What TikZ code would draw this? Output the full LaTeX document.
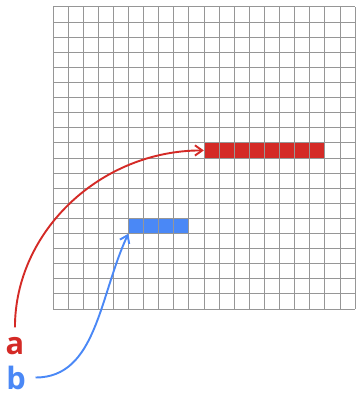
\documentclass[tikz,border=0pt]{standalone}
\usepackage{fontspec}
\setmainfont{Open Sans}
\usetikzlibrary{
    positioning,
    arrows.meta
}
\definecolor{MarkRed}{RGB}{212,42,38}
\definecolor{MarkBlue}{RGB}{74,136,246}
\definecolor{GridGray}{RGB}{150,150,150}

\begin{document}
\begin{tikzpicture}[
    x=0.5cm, y=0.5cm,
    gridline/.style={draw=GridGray, line width=0.9pt, step=0.5cm},
    cellfill/.style={inner sep=0pt, minimum height=0.5cm},
    arr/.style={line width=1.8pt, shorten <=7pt, -{Straight Barb[length=2.4mm,width=3.4mm]}},
    lbl/.style={font=\fontsize{29}{30}\selectfont\bfseries, inner sep=2pt, anchor=base},
]
\useasboundingbox (-3.51,-5.56) rectangle (20,20.46);
% marked runs
\fill[MarkRed] (10,10) rectangle (18,11);
\fill[MarkBlue] (5,5) rectangle (9,6);
\node[cellfill, minimum width=4cm] (redrun) at (14,10.5) {};
\node[cellfill, minimum width=2cm] (bluerun) at (7,5.5) {};
% grid
\draw[gridline] (0,0) grid (20,20);
% labels
\node[lbl, text=MarkRed] (a) at (-2.52,-3.0) {a};
\node[lbl, text=MarkBlue] (b) at (-2.45,-5.3) {b};
% pointers
\draw[arr, MarkRed] (a.north) to[out=90, in=180] (redrun.west);
\draw[arr, MarkBlue] (b.east) to[out=0, in=-115] (bluerun.south west);
\end{tikzpicture}
\end{document}
